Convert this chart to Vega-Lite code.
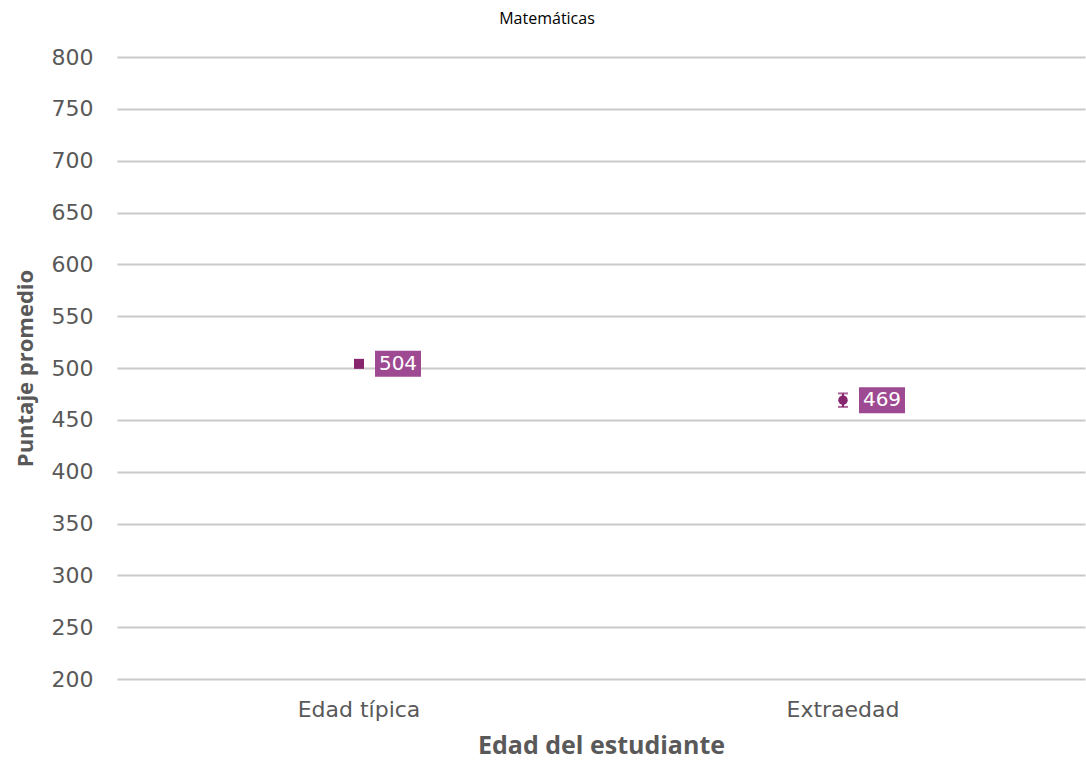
{
  "$schema": "https://vega.github.io/schema/vega-lite/v6.json",
  "width": 968,
  "height": 622,
  "autosize": {"type": "none"},
  "padding": {"left": 117, "top": 57, "right": 1, "bottom": 82},
  "background": "white",
  "title": {"text": "Matemáticas", "fontSize": 16, "font": "Open Sans", "fontWeight": "normal", "color": "#000000", "offset": 19, "dx": -54, "anchor": "middle"},
  "config": {"view": {"stroke": null}},
  "data": {"values": [
    {"edad": "Edad típica", "puntaje": 504, "lo": 502, "hi": 506, "forma": "square"},
    {"edad": "Extraedad", "puntaje": 469, "lo": 462.5, "hi": 475.5, "forma": "circle"}
  ]},
  "encoding": {
    "x": {"field": "edad", "type": "nominal", "sort": null,
      "axis": {"title": "Edad del estudiante", "labelAngle": 0, "labelFont": "DejaVu Sans", "labelFontSize": 22, "labelColor": "#595959", "ticks": false, "domain": false, "labelPadding": 20, "titleFont": "Open Sans", "titleFontSize": 25, "titleFontWeight": "bold", "titleColor": "#595959", "titlePadding": 13}},
    "y": {"field": "puntaje", "type": "quantitative",
      "scale": {"domain": [200, 800], "nice": false, "zero": false},
      "axis": {"title": "Puntaje promedio", "values": [200,250,300,350,400,450,500,550,600,650,700,750,800], "labelFont": "DejaVu Sans", "labelFontSize": 22, "labelColor": "#595959", "ticks": false, "domain": false, "labelPadding": 24, "gridColor": "#c9c9c9", "gridWidth": 2, "titleFont": "Open Sans", "titleFontSize": 22, "titleFontWeight": "bold", "titleColor": "#595959", "titlePadding": 14}}
  },
  "layer": [
    {"mark": {"type": "rule", "color": "#87256F", "strokeWidth": 2}, "encoding": {"y": {"field": "lo", "type": "quantitative"}, "y2": {"field": "hi"}}},
    {"mark": {"type": "tick", "color": "#87256F", "size": 10, "thickness": 2}, "encoding": {"y": {"field": "lo", "type": "quantitative"}}},
    {"mark": {"type": "tick", "color": "#87256F", "size": 10, "thickness": 2}, "encoding": {"y": {"field": "hi", "type": "quantitative"}}},
    {"mark": {"type": "point", "filled": true, "color": "#87256F", "opacity": 1}, "encoding": {
      "shape": {"field": "forma", "type": "nominal", "scale": null, "legend": null},
      "size": {"condition": {"test": "datum.forma === 'square'", "value": 100}, "value": 90}}},
    {"mark": {"type": "point", "filled": true, "color": "#9E4A93", "opacity": 1, "shape": "M0.64,-0.52L2.48,-0.52L2.48,0.52L0.64,0.52Z", "size": 2500}},
    {"mark": {"type": "text", "color": "white", "font": "DejaVu Sans", "fontSize": 20, "dx": 39, "align": "center", "baseline": "middle"}, "encoding": {"text": {"field": "puntaje", "type": "quantitative"}}}
  ]
}
